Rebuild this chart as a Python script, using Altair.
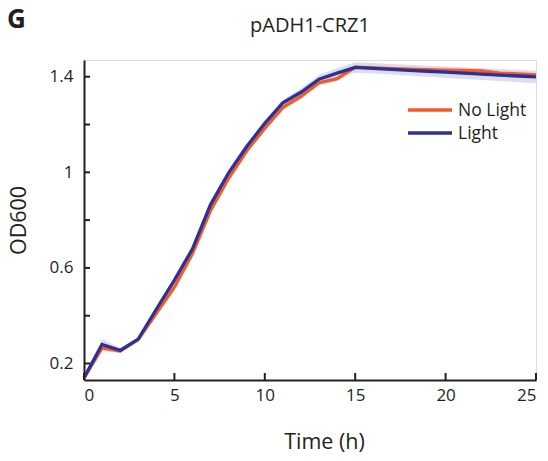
import altair as alt
import pandas as pd

# ---- data ----
hours = list(range(0, 26))
od_no_light = [0.140, 0.265, 0.252, 0.300, 0.410, 0.520, 0.660, 0.840, 0.975, 1.090,
               1.185, 1.272, 1.318, 1.375, 1.392, 1.440, 1.437, 1.434, 1.432, 1.430,
               1.428, 1.426, 1.424, 1.415, 1.412, 1.408]
od_light = [0.140, 0.280, 0.255, 0.302, 0.427, 0.549, 0.680, 0.865, 0.998, 1.108,
            1.205, 1.291, 1.335, 1.390, 1.415, 1.439, 1.435, 1.431, 1.427, 1.423,
            1.419, 1.415, 1.411, 1.407, 1.403, 1.399]
err_no_light = [0.008, 0.012, 0.008, 0.008, 0.010, 0.010, 0.010, 0.010, 0.010, 0.010,
                0.010, 0.010, 0.010, 0.010, 0.010, 0.012, 0.012, 0.012, 0.012, 0.012,
                0.012, 0.012, 0.012, 0.012, 0.012, 0.012]
err_light = [0.008, 0.024, 0.010, 0.008, 0.010, 0.010, 0.010, 0.010, 0.012, 0.012,
             0.012, 0.014, 0.016, 0.018, 0.020, 0.022, 0.022, 0.022, 0.023, 0.023,
             0.024, 0.024, 0.025, 0.025, 0.026, 0.026]

series_names = ["No Light", "Light"]
series_colors = ["#f15a29", "#2e3192"]
band_colors = ["#f7c4b0", "#d9d9ef"]

x_ticks = [0, 5, 10, 15, 20, 25]
y_ticks = [0.2, 0.4, 0.6, 0.8, 1.0, 1.2, 1.4]
y_labels = [0.2, 0.6, 1.0, 1.4]

chart_title = "pADH1-CRZ1"
panel_letter = "G"

FONT = "Open Sans"
INK = "#231f20"

rows = []
for name, vals, errs in [("No Light", od_no_light, err_no_light), ("Light", od_light, err_light)]:
    for t, v, e in zip(hours, vals, errs):
        rows.append({"t": t, "od": v, "lo": v - e, "hi": v + e, "series": name})
df = pd.DataFrame(rows)

xscale = alt.Scale(domain=[0, 25], nice=False, zero=False)
yscale = alt.Scale(domain=[0.131, 1.47], nice=False, zero=False)

xaxis = alt.Axis(values=x_ticks, ticks=False, grid=False, domainColor=INK, domainWidth=2,
                 labelFont=FONT, labelFontSize=17, labelColor=INK, labelPadding=7,
                 title="Time (h)", titleFont=FONT, titleFontSize=21.5, titleFontWeight="normal",
                 titleColor=INK, titlePadding=28, titleX=240)
yaxis = alt.Axis(values=y_labels, format=".1~f", ticks=False, grid=False, domainColor=INK,
                 domainWidth=2, labelFont=FONT, labelFontSize=17, labelColor=INK, labelPadding=11,
                 title="OD600", titleFont=FONT, titleFontSize=21.5, titleFontWeight="normal",
                 titleColor=INK, titlePadding=19)

layers = []
for name, bc in zip(series_names, band_colors):
    layers.append(
        alt.Chart(df).transform_filter(alt.datum.series == name).mark_area(color=bc, opacity=0.9).encode(
            x=alt.X("t:Q", scale=xscale, axis=xaxis),
            y=alt.Y("lo:Q", scale=yscale, axis=yaxis),
            y2="hi:Q",
        )
    )
for name, c in zip(series_names, series_colors):
    layers.append(
        alt.Chart(df).transform_filter(alt.datum.series == name).mark_line(color=c, strokeWidth=3.3).encode(
            x=alt.X("t:Q", scale=xscale),
            y=alt.Y("od:Q", scale=yscale),
        )
    )

# inward ticks
ytick_df = pd.DataFrame({"od": y_ticks})
layers.append(
    alt.Chart(ytick_df).mark_rule(color=INK, strokeWidth=2).encode(
        y=alt.Y("od:Q", scale=yscale), x=alt.value(0), x2=alt.value(6)
    )
)
xtick_df = pd.DataFrame({"t": x_ticks})
layers.append(
    alt.Chart(xtick_df).mark_rule(color=INK, strokeWidth=2).encode(
        x=alt.X("t:Q", scale=xscale), y=alt.value(320), y2=alt.value(313)
    )
)

# legend
for i, (name, c) in enumerate(zip(series_names, series_colors)):
    ly = 50 + i * 23
    ldf = pd.DataFrame({"label": [name]})
    layers.append(
        alt.Chart(ldf).mark_rule(color=c, strokeWidth=3.5).encode(
            x=alt.value(324), x2=alt.value(368), y=alt.value(ly)
        )
    )
    layers.append(
        alt.Chart(ldf).mark_text(align="left", baseline="middle", font=FONT, fontSize=17.5, color=INK).encode(
            x=alt.value(374), y=alt.value(ly + 1), text="label:N"
        )
    )

# title and panel letter
layers.append(
    alt.Chart(pd.DataFrame({"label": [chart_title]})).mark_text(
        align="center", baseline="alphabetic", font=FONT, fontSize=20, color=INK
    ).encode(x=alt.value(226), y=alt.value(-28), text="label:N")
)
layers.append(
    alt.Chart(pd.DataFrame({"label": [panel_letter]})).mark_text(
        align="left", baseline="alphabetic", font=FONT, fontSize=26, fontWeight="bold", color=INK
    ).encode(x=alt.value(-77), y=alt.value(-32), text="label:N")
)

chart = alt.layer(*layers).properties(
    width=452, height=320,
    autosize=alt.AutoSizeParams(type="none"),
    padding={"left": 84, "top": 60, "right": 12, "bottom": 81},
).configure_view(stroke=None).configure(background="white")

chart.save("out.html", embed_options={"renderer": "svg", "actions": False})
